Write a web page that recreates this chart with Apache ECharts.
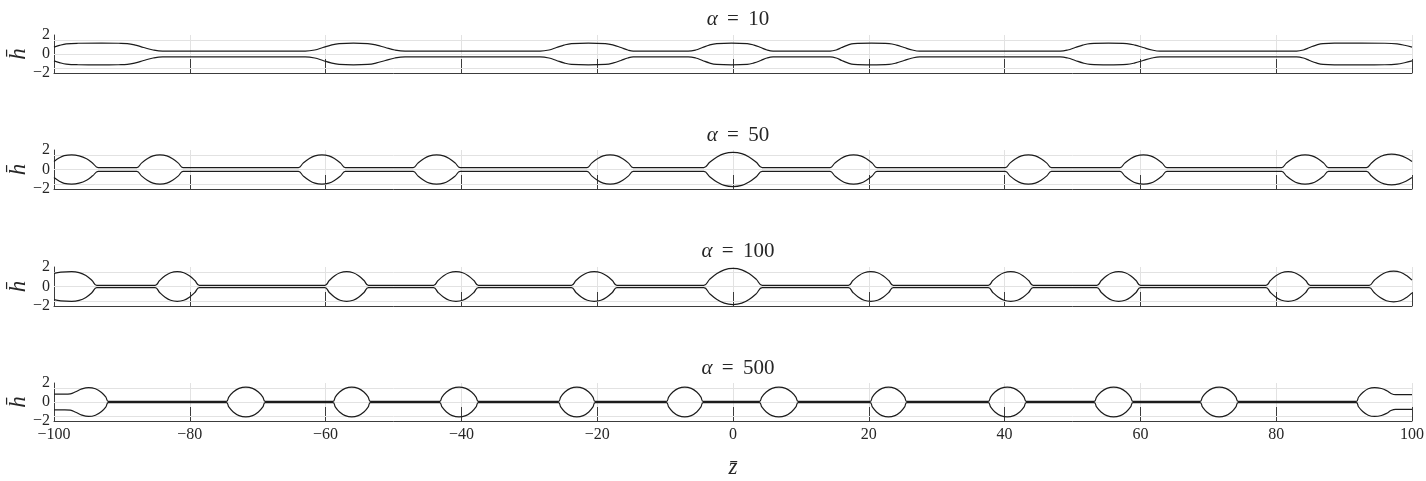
<!DOCTYPE html>
<html>
<head>
<meta charset="utf-8">
<title>Thread profiles</title>
<script src="https://cdn.jsdelivr.net/npm/echarts@6/dist/echarts.min.js"></script>
<style>
  html, body { margin: 0; padding: 0; background: #ffffff; }
  #chart { width: 1426px; height: 481px; }
</style>
</head>
<body>
<div id="chart"></div>
<script>
// Parameter of each panel
const alphas = [10, 50, 100, 500];

// Axis ticks
const zMin = -100;
const zMax = 100;
const zStep = 20;
const hMin = -2;
const hMax = 2;
const hLabelValues = [-2, 0, 2];
const hTickValues = [-1.5, 0, 1.5];

// Upper free-surface profile h(z) for each alpha, as [z, h] pairs.
// The lower surface is its mirror image, -h(z).
const profileA10 = [
  [-100, 0.72], [-99.2, 0.9], [-98.2, 1.06], [-96.5, 1.13], [-93, 1.15], [-90.5, 1.13], [-89.2, 1.1], [-88, 0.94], [-86.8, 0.68], [-85.4, 0.42], [-84, 0.3],
  [-63, 0.3], [-61.6, 0.42], [-60.4, 0.68], [-59.2, 0.94], [-58, 1.1], [-55.9, 1.15], [-53.8, 1.1], [-52.5, 0.94], [-51.2, 0.68], [-49.8, 0.42], [-48.3, 0.3],
  [-28.4, 0.3], [-27.1, 0.42], [-26, 0.68], [-24.9, 0.94], [-23.8, 1.1], [-21.3, 1.15], [-18.8, 1.1], [-17.6, 0.94], [-16.5, 0.68], [-15.5, 0.42], [-14.7, 0.3],
  [-6.6, 0.3], [-5.5, 0.42], [-4.5, 0.68], [-3.5, 0.94], [-2.4, 1.1], [-0.2, 1.15], [2.1, 1.1], [3.1, 0.94], [4.1, 0.68], [5.0, 0.42], [5.9, 0.3],
  [14.3, 0.3], [15.2, 0.42], [16.0, 0.68], [16.9, 0.94], [17.8, 1.1], [20.4, 1.15], [23.0, 1.1], [24.1, 0.94], [25.2, 0.68], [26.4, 0.42], [27.5, 0.3],
  [48.2, 0.3], [49.3, 0.42], [50.4, 0.68], [51.5, 0.94], [52.6, 1.1], [55.3, 1.15], [58.0, 1.1], [59.2, 0.94], [60.4, 0.68], [61.7, 0.42], [62.9, 0.3],
  [83, 0.3], [84, 0.42], [84.9, 0.68], [85.9, 0.94], [86.9, 1.1], [89, 1.14], [92.5, 1.15], [96, 1.13], [97.8, 1.06], [98.9, 0.92], [100, 0.72]
];

const profileA50 = [
  [-100, 0.82], [-99.2, 1.2], [-98.5, 1.42], [-97.4, 1.5], [-96.3, 1.4], [-95.2, 1.1], [-94.3, 0.65], [-93.5, 0.2],
  [-87.8, 0.2], [-87.12, 0.65], [-86.27, 1.1], [-85.42, 1.4], [-84.4, 1.5], [-83.38, 1.4], [-82.53, 1.1], [-81.68, 0.65], [-81, 0.2],
  [-64, 0.2], [-63.31, 0.65], [-62.45, 1.1], [-61.58, 1.4], [-60.55, 1.5], [-59.52, 1.4], [-58.65, 1.1], [-57.79, 0.65], [-57.1, 0.2],
  [-47.1, 0.2], [-46.41, 0.65], [-45.55, 1.1], [-44.68, 1.4], [-43.65, 1.5], [-42.62, 1.4], [-41.75, 1.1], [-40.89, 0.65], [-40.2, 0.2],
  [-21.5, 0.2], [-20.82, 0.65], [-19.97, 1.1], [-19.12, 1.4], [-18.1, 1.5], [-17.08, 1.4], [-16.23, 1.1], [-15.38, 0.65], [-14.7, 0.2],
  [-4.3, 0.2], [-3.44, 0.74], [-2.36, 1.29], [-1.29, 1.63], [0, 1.75], [1.29, 1.63], [2.36, 1.29], [3.44, 0.74], [4.3, 0.2],
  [14.3, 0.2], [14.99, 0.65], [15.85, 1.1], [16.72, 1.4], [17.75, 1.5], [18.78, 1.4], [19.65, 1.1], [20.51, 0.65], [21.2, 0.2],
  [40.1, 0.2], [40.78, 0.65], [41.63, 1.1], [42.48, 1.4], [43.5, 1.5], [44.52, 1.4], [45.37, 1.1], [46.22, 0.65], [46.9, 0.2],
  [57, 0.2], [57.69, 0.65], [58.55, 1.1], [59.42, 1.4], [60.45, 1.5], [61.48, 1.4], [62.35, 1.1], [63.21, 0.65], [63.9, 0.2],
  [80.8, 0.2], [81.49, 0.65], [82.35, 1.1], [83.22, 1.4], [84.25, 1.5], [85.28, 1.4], [86.15, 1.1], [87.01, 0.65], [87.7, 0.2],
  [93.3, 0.2], [94.04, 0.67], [94.97, 1.17], [95.89, 1.47], [97, 1.58], [98.1, 1.47], [99.1, 1.2], [100, 0.82]
];

const profileA100 = [
  [-100, 1.35], [-99, 1.47], [-97.4, 1.52], [-96.3, 1.42], [-95.3, 1.12], [-94.4, 0.62], [-93.7, 0.12],
  [-85.1, 0.12], [-84.45, 0.61], [-83.64, 1.1], [-82.82, 1.41], [-81.85, 1.52], [-80.88, 1.41], [-80.06, 1.1], [-79.25, 0.61], [-78.6, 0.12],
  [-60.1, 0.12], [-59.46, 0.61], [-58.66, 1.1], [-57.86, 1.41], [-56.9, 1.52], [-55.94, 1.41], [-55.14, 1.1], [-54.34, 0.61], [-53.7, 0.12],
  [-44.1, 0.12], [-43.44, 0.61], [-42.61, 1.1], [-41.79, 1.41], [-40.8, 1.52], [-39.81, 1.41], [-38.99, 1.1], [-38.16, 0.61], [-37.5, 0.12],
  [-23.8, 0.12], [-23.13, 0.61], [-22.29, 1.1], [-21.45, 1.41], [-20.45, 1.52], [-19.45, 1.41], [-18.61, 1.1], [-17.77, 0.61], [-17.1, 0.12],
  [-4.3, 0.12], [-3.44, 0.73], [-2.36, 1.33], [-1.29, 1.71], [0, 1.85], [1.29, 1.71], [2.36, 1.33], [3.44, 0.73], [4.3, 0.12],
  [17, 0.12], [17.66, 0.61], [18.49, 1.1], [19.31, 1.41], [20.3, 1.52], [21.29, 1.41], [22.11, 1.1], [22.94, 0.61], [23.6, 0.12],
  [37.6, 0.12], [38.26, 0.61], [39.09, 1.1], [39.91, 1.41], [40.9, 1.52], [41.89, 1.41], [42.71, 1.1], [43.54, 0.61], [44.2, 0.12],
  [53.6, 0.12], [54.24, 0.61], [55.04, 1.1], [55.84, 1.41], [56.8, 1.52], [57.76, 1.41], [58.56, 1.1], [59.36, 0.61], [60, 0.12],
  [78.5, 0.12], [79.15, 0.61], [79.96, 1.1], [80.78, 1.41], [81.75, 1.52], [82.72, 1.41], [83.54, 1.1], [84.35, 0.61], [85, 0.12],
  [93.7, 0.12], [94.42, 0.62], [95.32, 1.14], [96.22, 1.46], [97.3, 1.57], [98.3, 1.46], [99.2, 1.12], [100, 0.65]
];

const profileA500 = [
  [-100, 0.82], [-98.4, 0.82], [-97.6, 0.86], [-96.8, 1.08], [-95.9, 1.38], [-94.9, 1.52], [-93.9, 1.39], [-93.0, 1.0], [-92.35, 0.5], [-92, 0.07],
  [-74.6, 0.07], [-74.26, 0.52], [-73.6, 1.05], [-72.75, 1.43], [-71.75, 1.57], [-70.75, 1.43], [-69.9, 1.05], [-69.24, 0.52], [-68.9, 0.07],
  [-58.9, 0.07], [-58.57, 0.52], [-57.94, 1.05], [-57.11, 1.43], [-56.15, 1.57], [-55.19, 1.43], [-54.36, 1.05], [-53.73, 0.52], [-53.4, 0.07],
  [-43.2, 0.07], [-42.86, 0.52], [-42.2, 1.05], [-41.35, 1.43], [-40.35, 1.57], [-39.35, 1.43], [-38.5, 1.05], [-37.84, 0.52], [-37.5, 0.07],
  [-25.7, 0.07], [-25.38, 0.52], [-24.76, 1.05], [-23.95, 1.43], [-23, 1.57], [-22.05, 1.43], [-21.24, 1.05], [-20.62, 0.52], [-20.3, 0.07],
  [-9.8, 0.07], [-9.48, 0.52], [-8.86, 1.05], [-8.05, 1.43], [-7.1, 1.57], [-6.15, 1.43], [-5.34, 1.05], [-4.72, 0.52], [-4.4, 0.07],
  [3.9, 0.07], [4.24, 0.52], [4.9, 1.05], [5.75, 1.43], [6.75, 1.57], [7.75, 1.43], [8.6, 1.05], [9.26, 0.52], [9.6, 0.07],
  [20.2, 0.07], [20.52, 0.52], [21.14, 1.05], [21.95, 1.43], [22.9, 1.57], [23.85, 1.43], [24.66, 1.05], [25.28, 0.52], [25.6, 0.07],
  [37.6, 0.07], [37.94, 0.52], [38.58, 1.05], [39.42, 1.43], [40.4, 1.57], [41.38, 1.43], [42.22, 1.05], [42.86, 0.52], [43.2, 0.07],
  [53.2, 0.07], [53.54, 0.52], [54.2, 1.05], [55.05, 1.43], [56.05, 1.57], [57.05, 1.43], [57.9, 1.05], [58.56, 0.52], [58.9, 0.07],
  [68.8, 0.07], [69.14, 0.52], [69.78, 1.05], [70.62, 1.43], [71.6, 1.57], [72.58, 1.43], [73.42, 1.05], [74.06, 0.52], [74.4, 0.07],
  [91.8, 0.07], [92.12, 0.5], [92.75, 1.0], [93.55, 1.39], [94.5, 1.52], [95.5, 1.42], [96.3, 1.18], [96.9, 0.9], [97.6, 0.77], [100, 0.77]
];

const profiles = [profileA10, profileA50, profileA100, profileA500];

// Layout of the four stacked panels (pixels)
const panelTops = [35, 150, 267, 383];
const panelHeights = [38, 39, 39, 38];
const titleTops = [4, 120, 236, 353];

const FONT = "'Liberation Serif', 'DejaVu Serif', serif";
const TEXT = '#262626';
const AXIS = '#3c3c3c';
const GRID = '#e2e2e2';
const CURVE = '#1c1c1c';

const signed = v => (v < 0 ? '\u2212' + Math.abs(v) : String(v));

const lastPanel = alphas.length - 1;

const grids = alphas.map((a, i) => ({
  left: 54, right: 14, top: panelTops[i], height: panelHeights[i],
  containLabel: false, outerBoundsMode: 'none'
}));

const titles = alphas.map((a, i) => ({
  text: '{a|\u03b1}{e| = }' + a,
  left: 733,
  textAlign: 'center',
  top: titleTops[i],
  textStyle: {
    fontFamily: FONT, fontSize: 21, fontWeight: 'normal', color: TEXT,
    rich: {
      a: { fontFamily: FONT, fontSize: 21, fontStyle: 'italic', color: TEXT },
      e: { fontFamily: FONT, fontSize: 21, color: TEXT, padding: [0, 4] }
    }
  }
}));

const xAxes = alphas.map((a, i) => ({
  type: 'value', gridIndex: i, min: zMin, max: zMax, interval: zStep,
  axisLine: { show: true, onZero: false, lineStyle: { color: AXIS, width: 1 } },
  axisTick: { show: true, inside: true, length: 14, lineStyle: { color: AXIS, width: 1 } },
  axisLabel: { show: i === lastPanel, color: TEXT, fontFamily: FONT, fontSize: 16, margin: 6, formatter: signed },
  splitLine: { show: true, lineStyle: { color: GRID, width: 1 } },
  name: i === lastPanel ? 'z\u0304' : '',
  nameLocation: 'middle', nameGap: 35, nameMoveOverlap: false,
  nameTextStyle: { fontFamily: FONT, fontSize: 23, fontStyle: 'italic', color: TEXT }
}));

const yAxes = alphas.map((a, i) => ({
  type: 'value', gridIndex: i, min: hMin, max: hMax,
  axisLine: { show: true, onZero: false, lineStyle: { color: AXIS, width: 1 } },
  axisTick: { show: true, inside: true, length: 14, customValues: hTickValues, lineStyle: { color: AXIS, width: 1 } },
  axisLabel: { show: true, customValues: hLabelValues, color: TEXT, fontFamily: FONT, fontSize: 16, margin: 4, formatter: signed },
  splitLine: { show: false },
  name: 'h\u0304', nameLocation: 'middle', nameRotate: 90, nameGap: 24, nameMoveOverlap: false,
  nameTextStyle: { fontFamily: FONT, fontSize: 23, fontStyle: 'italic', color: TEXT }
}));

const series = [];
alphas.forEach((a, i) => {
  // upper surface, carrying the horizontal grid lines
  series.push({
    name: 'alpha ' + a + ' upper',
    type: 'line', xAxisIndex: i, yAxisIndex: i,
    data: profiles[i],
    symbol: 'none', showSymbol: false, smooth: 0.4, silent: true, z: 3,
    lineStyle: { color: CURVE, width: 1.2 },
    markLine: {
      silent: true, z: 1, symbol: ['none', 'none'], animation: false,
      label: { show: false },
      lineStyle: { type: 'solid', color: GRID, width: 1 },
      data: hTickValues.map(v => ({ yAxis: v }))
    }
  });
  // lower surface
  series.push({
    name: 'alpha ' + a + ' lower',
    type: 'line', xAxisIndex: i, yAxisIndex: i,
    data: profiles[i].map(p => [p[0], -p[1]]),
    symbol: 'none', showSymbol: false, smooth: 0.4, silent: true, z: 3,
    lineStyle: { color: CURVE, width: 1.2 }
  });
});

const chart = echarts.init(document.getElementById('chart'), null, { renderer: 'canvas' });
chart.setOption({
  animation: false,
  backgroundColor: '#ffffff',
  title: titles,
  grid: grids,
  xAxis: xAxes,
  yAxis: yAxes,
  series: series
});
</script>
</body>
</html>
